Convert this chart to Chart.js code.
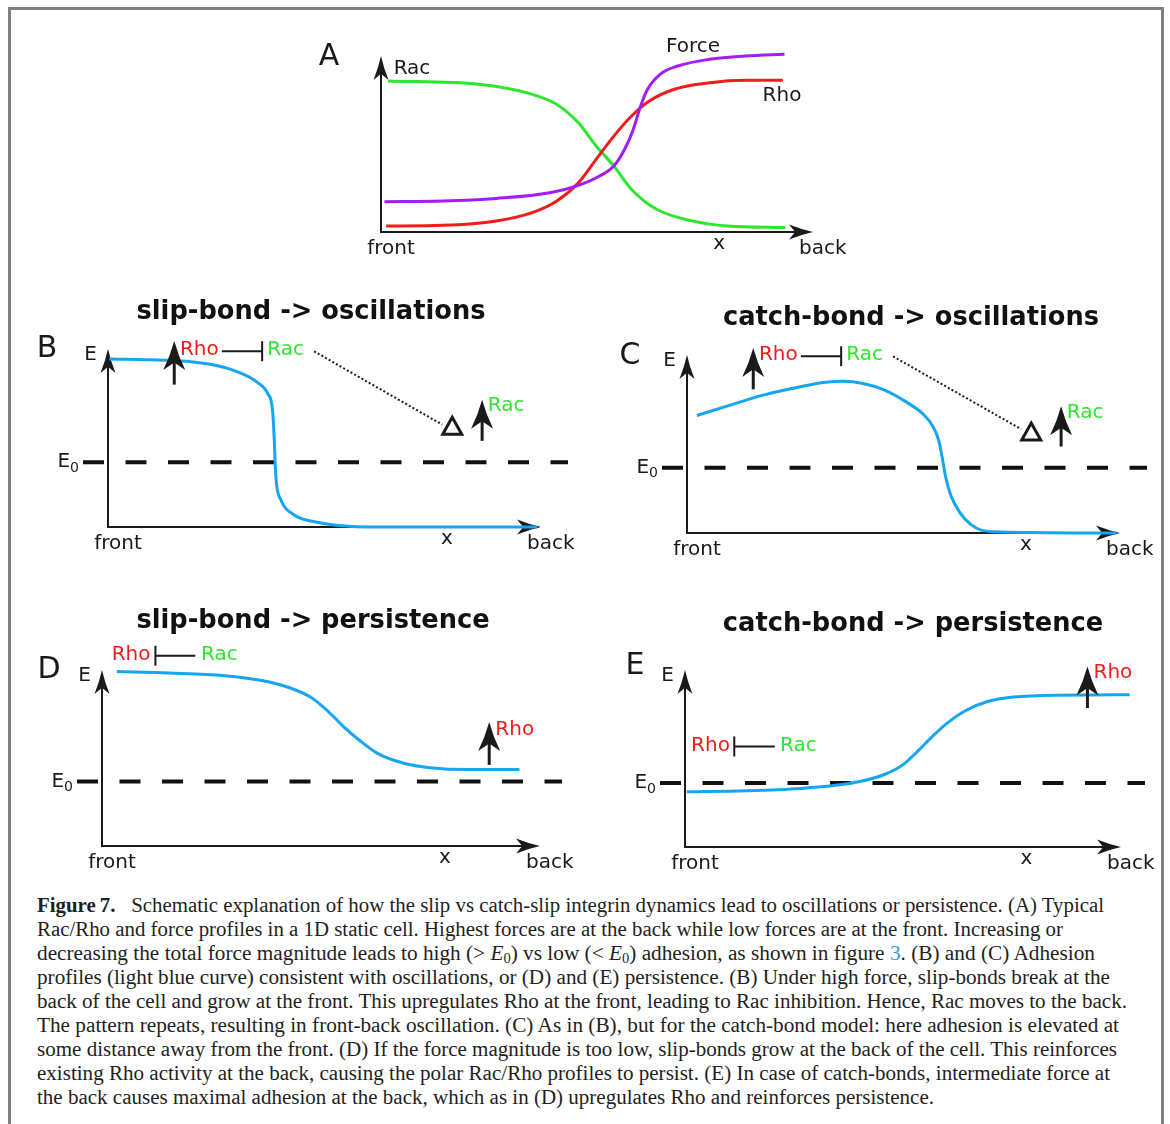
<!DOCTYPE html>
<html>
<head>
<meta charset="utf-8">
<title>Figure 7</title>
<script src="https://cdn.jsdelivr.net/npm/chart.js@4.4.1/dist/chart.umd.min.js"></script>
<style>
  body { margin: 0; background: #fff; }
  #page { position: relative; width: 1170px; height: 1124px; overflow: hidden; }
  #frame { position: absolute; left: 8px; top: 7px; width: 1156px; height: 1140px;
           border: 3px solid #808080; border-bottom: none; box-sizing: border-box; }
  canvas { position: absolute; }
  #caption { position: absolute; left: 37px; top: 893px; font-family: "Liberation Serif", serif;
             font-size: 20px; line-height: 24px; color: #231f20; }
  .ln { white-space: nowrap; height: 24px; }
  .ln span.t { display: inline-block; transform-origin: 0 50%; }
  .ln sub { font-size: 0.68em; vertical-align: -0.2em; line-height: 0; }
  .ref { color: #2a9bd8; }
</style>
</head>
<body>
<div id="page">
  <div id="frame"></div>
  <canvas id="panelA"></canvas>
  <canvas id="panelB"></canvas>
  <canvas id="panelC"></canvas>
  <canvas id="panelD"></canvas>
  <canvas id="panelE"></canvas>
  <div id="caption">
    <div class="ln" data-w="1067"><span class="t"><b>Figure&#8201;7.</b>&nbsp;&nbsp; Schematic explanation of how the slip vs catch-slip integrin dynamics lead to oscillations or persistence. (A) Typical</span></div>
    <div class="ln" data-w="1026"><span class="t">Rac/Rho and force profiles in a 1D static cell. Highest forces are at the back while low forces are at the front. Increasing or</span></div>
    <div class="ln" data-w="1058"><span class="t">decreasing the total force magnitude leads to high (&gt; <i>E</i><sub>0</sub>) vs low (&lt; <i>E</i><sub>0</sub>) adhesion, as shown in figure <span class="ref">3</span>. (B) and (C) Adhesion</span></div>
    <div class="ln" data-w="1073"><span class="t">profiles (light blue curve) consistent with oscillations, or (D) and (E) persistence. (B) Under high force, slip-bonds break at the</span></div>
    <div class="ln" data-w="1090"><span class="t">back of the cell and grow at the front. This upregulates Rho at the front, leading to Rac inhibition. Hence, Rac moves to the back.</span></div>
    <div class="ln" data-w="1082"><span class="t">The pattern repeats, resulting in front-back oscillation. (C) As in (B), but for the catch-bond model: here adhesion is elevated at</span></div>
    <div class="ln" data-w="1080"><span class="t">some distance away from the front. (D) If the force magnitude is too low, slip-bonds grow at the back of the cell. This reinforces</span></div>
    <div class="ln" data-w="1073"><span class="t">existing Rho activity at the back, causing the polar Rac/Rho profiles to persist. (E) In case of catch-bonds, intermediate force at</span></div>
    <div class="ln" data-w="897"><span class="t">the back causes maximal adhesion at the back, which as in (D) upregulates Rho and reinforces persistence.</span></div>
  </div>
</div>
<script>
// profiles as [x, y] pairs, both axes run 0..100 from the origin to the arrow tip
// panel A
var racA = [[1.6,85.8],[22.6,83.9],[35,78.2],[40.7,72.5],[45.7,62.1],[49.8,48.9],[53.9,37.5],[58,24.2],[63.8,12.9],[72,6.3],[80.2,3.4],[93.6,2.5]];
var rhoA = [[1.2,3.4],[14.4,3.8],[26.7,6.3],[35,11],[40.7,17.6],[45.7,28],[49.8,41.3],[53.9,54.5],[58,65.9],[62.1,74.4],[67.9,81.1],[76.1,84.8],[84.4,86.2],[93,86.2]];
var forceA = [[0.8,17.2],[14.4,17.6],[26.7,19.1],[39.1,22.3],[45.7,26.5],[50.6,31.8],[53.9,37.5],[56.4,47],[58.4,58.3],[60.1,71.6],[61.7,81.1],[64.6,89.6],[68.7,94.3],[76.1,98.1],[84.4,100],[93.4,101]];
// panels B-E, adhesion E(x)
var adhB = [[0.3,94.4],[9.6,94],[18.2,93.1],[25,90.7],[30.1,87],[34.4,81.4],[36.9,74.9],[38,65.5],[38.4,48.8],[38.6,35.8],[38.9,24.6],[39.9,15.3],[42.9,6.9],[48,2.8],[54,0.7],[60.8,0],[99.1,0]];
var adhC = [[2.3,66],[9.4,71.4],[17.8,77.6],[26.2,82.2],[32,84.7],[36.2,85.2],[40.4,84.1],[45.5,80.4],[50.5,73.8],[54.7,66.4],[56.8,59.8],[58.1,52.3],[58.9,43],[59.7,31.8],[61,20.6],[63.1,11.2],[65.6,4.7],[68.1,1.5],[72.3,0.6],[99.2,0]];
var adhD = [[3.4,99.1],[15.2,98.3],[28,96.8],[36.5,94],[42.5,90.2],[47.6,84.6],[51.8,76.1],[55.2,67.7],[58.7,60.2],[62.9,52.6],[68.9,47],[74.9,44.5],[83.4,43.4],[95.3,43.4]];
var adhE = [[0.4,31.2],[14,31.8],[26.6,33.1],[35,35],[40.9,37.4],[45.9,41.1],[50.1,46.7],[53.4,54.2],[56.8,62.6],[60.2,70.1],[64.3,77],[69.4,82.2],[75.3,84.7],[85.3,85.8],[102,86]];
// E0 threshold level in each of B..E
var e0Levels = { B: 36.4, C: 36.6, D: 36.7, E: 36.1 };

var RED = '#f01c1c', GREEN = '#2ee62e', BLUE = '#14a6f2', PURPLE = '#a41cf4', INK = '#1a1a1a';
var SANS = '"DejaVu Sans", sans-serif';

function head(ctx, x, y, dir, len, w) {
  // notched arrow head, tip at (x, y)
  ctx.save();
  ctx.translate(x, y);
  if (dir == 'right') ctx.rotate(Math.PI / 2);
  ctx.beginPath();
  ctx.moveTo(0, 0);
  ctx.quadraticCurveTo(w * 0.18, len * 0.5, w / 2, len);
  ctx.lineTo(0, len * 0.74);
  ctx.lineTo(-w / 2, len);
  ctx.quadraticCurveTo(-w * 0.18, len * 0.5, 0, 0);
  ctx.closePath();
  ctx.fillStyle = INK;
  ctx.fill();
  ctx.restore();
}

function txt(ctx, s, x, y, color, align, font) {
  ctx.font = font || ('20px ' + SANS);
  ctx.fillStyle = color || INK;
  ctx.textAlign = align || 'left';
  ctx.textBaseline = 'middle';
  ctx.fillText(s, x, y);
}

function makePanel(id, box, ax, series, o) {
  var cv = document.getElementById(id);
  cv.width = box.w; cv.height = box.h;
  cv.style.left = box.l + 'px'; cv.style.top = box.t + 'px';

  var deco = {
    id: 'deco',
    beforeDatasetsDraw: function (c) {
      var ctx = c.ctx, a = c.chartArea, X = c.scales.x, Y = c.scales.y;
      ctx.save();
      // axes
      ctx.strokeStyle = INK; ctx.lineWidth = 2;
      ctx.beginPath();
      ctx.moveTo(a.left, a.top + 12); ctx.lineTo(a.left, a.bottom);
      ctx.lineTo(a.right - 12, a.bottom);
      ctx.stroke();
      head(ctx, a.left, a.top, 'up', 24, 15);
      head(ctx, a.right, a.bottom, 'right', 24, 15);
      // threshold E0
      if (o.e0 != null) {
        var ye = Y.getPixelForValue(o.e0);
        ctx.setLineDash([21, 21.5]);
        ctx.lineWidth = 4; ctx.strokeStyle = '#111';
        ctx.beginPath(); ctx.moveTo(a.left - 25, ye); ctx.lineTo(a.left + 460, ye); ctx.stroke();
        ctx.setLineDash([]);
        ctx.font = '14px ' + SANS;
        var w0 = ctx.measureText('0').width;
        txt(ctx, '0', a.left - 29, ye + 6, INK, 'right', '14px ' + SANS);
        txt(ctx, 'E', a.left - 29 - w0, ye, INK, 'right');
        txt(ctx, 'E', a.left - 11, a.top + 6, INK, 'right');
      }
      // axis labels
      txt(ctx, 'front', a.left + 10, a.bottom + 17, INK, 'center');
      txt(ctx, 'x', X.getPixelForValue(78.3), a.bottom + 12, INK, 'center');
      txt(ctx, 'back', a.right - 14, a.bottom + 17, INK, 'left');
      // panel letter and title
      txt(ctx, o.letter, o.letterAt[0] - box.l, o.letterAt[1] - box.t, INK, 'center', '30px ' + SANS);
      if (o.title) txt(ctx, o.title, o.titleAt[0] - box.l, o.titleAt[1] - box.t, '#111', 'center', 'bold 25.7px ' + SANS);
      ctx.restore();
    },
    afterDatasetsDraw: function (c) {
      var ctx = c.ctx, X = c.scales.x, Y = c.scales.y;
      ctx.save();
      (o.notes || []).forEach(function (n) {
        if (n.kind == 'text') {
          txt(ctx, n.s, X.getPixelForValue(n.x), Y.getPixelForValue(n.y), n.color, n.align);
        } else if (n.kind == 'up') {
          var px = X.getPixelForValue(n.x), y0 = Y.getPixelForValue(n.y0), y1 = Y.getPixelForValue(n.y1);
          ctx.strokeStyle = INK; ctx.lineWidth = 3;
          ctx.beginPath(); ctx.moveTo(px, y0); ctx.lineTo(px, y1 + 15); ctx.stroke();
          head(ctx, px, y1, 'up', 29, 22);
        } else if (n.kind == 'inhibit') {
          var x0 = X.getPixelForValue(n.x0), x1 = X.getPixelForValue(n.x1), py = Y.getPixelForValue(n.y);
          var xb = n.bar == 'start' ? x0 : x1;
          ctx.strokeStyle = INK; ctx.lineWidth = 2;
          ctx.beginPath(); ctx.moveTo(x0, py); ctx.lineTo(x1, py);
          ctx.moveTo(xb, py - 10); ctx.lineTo(xb, py + 10); ctx.stroke();
        } else if (n.kind == 'dots') {
          ctx.strokeStyle = INK; ctx.lineWidth = 2; ctx.setLineDash([2, 2.2]);
          ctx.beginPath();
          ctx.moveTo(X.getPixelForValue(n.x0), Y.getPixelForValue(n.y0));
          ctx.lineTo(X.getPixelForValue(n.x1), Y.getPixelForValue(n.y1));
          ctx.stroke(); ctx.setLineDash([]);
        } else if (n.kind == 'tri') {
          var tx = X.getPixelForValue(n.x), ty = Y.getPixelForValue(n.y);
          ctx.strokeStyle = INK; ctx.lineWidth = 3; ctx.lineJoin = 'miter';
          ctx.beginPath(); ctx.moveTo(tx - 9.5, ty - 1.5); ctx.lineTo(tx + 9.5, ty - 1.5); ctx.lineTo(tx, ty - 18.5); ctx.closePath(); ctx.stroke();
        }
      });
      (o.labels || []).forEach(function (l) {
        txt(ctx, l.s, l.at[0] - box.l, l.at[1] - box.t, l.color, 'center');
      });
      ctx.restore();
    }
  };

  return new Chart(cv, {
    type: 'line',
    data: {
      datasets: series.map(function (s) {
        return {
          data: s.pts.map(function (p) { return { x: p[0], y: p[1] }; }),
          borderColor: s.color, borderWidth: 3, pointRadius: 0,
          cubicInterpolationMode: 'monotone', fill: false, clip: false
        };
      })
    },
    options: {
      responsive: false, animation: false, devicePixelRatio: 1,
      layout: { padding: { left: ax.ox - box.l, right: box.l + box.w - ax.xTip, top: ax.yTip - box.t, bottom: box.t + box.h - ax.oy } },
      scales: {
        x: { type: 'linear', min: 0, max: 100, display: false },
        y: { type: 'linear', min: 0, max: 100, display: false }
      },
      plugins: { legend: { display: false }, tooltip: { enabled: false } }
    },
    plugins: [deco]
  });
}

// the Rho -| Rac loop shown over B and C
function oscNotes(r) {
  return [
    { kind: 'up', x: 15.3, y0: r.a0, y1: r.a1 },
    { kind: 'text', s: 'Rho', color: RED, x: 16.6, y: r.t },
    { kind: 'inhibit', x0: 26.3, x1: 35.6, y: r.t - 0.7, bar: 'end' },
    { kind: 'text', s: 'Rac', color: GREEN, x: 36.8, y: r.t },
    { kind: 'dots', x0: 47.6, y0: r.t - 0.8, x1: 77.2, y1: r.d },
    { kind: 'tri', x: 79.5, y: r.tri },
    { kind: 'up', x: 86.4, y0: r.b0, y1: r.b1 },
    { kind: 'text', s: 'Rac', color: GREEN, x: 87.7, y: r.b1 - 3.5 }
  ];
}

makePanel('panelA', { l: 300, t: 20, w: 580, h: 250 }, { ox: 381, oy: 232, xTip: 813, yTip: 56 },
  [{ pts: forceA, color: PURPLE }, { pts: rhoA, color: RED }, { pts: racA, color: GREEN }],
  {
    letter: 'A', letterAt: [329, 57],
    labels: [{ s: 'Rac', at: [412, 69] }, { s: 'Force', at: [693, 47] }, { s: 'Rho', at: [782, 96] }]
  });

makePanel('panelB', { l: 25, t: 285, w: 570, h: 290 }, { ox: 108, oy: 527, xTip: 541, yTip: 349 },
  [{ pts: adhB, color: BLUE }],
  {
    letter: 'B', letterAt: [47, 349], title: 'slip-bond -> oscillations', titleAt: [311, 312], e0: e0Levels.B,
    notes: oscNotes({ a0: 80, a1: 104.5, t: 99.5, d: 57.5, tri: 51.2, b0: 48.4, b1: 71.5 })
  });

makePanel('panelC', { l: 600, t: 285, w: 560, h: 290 }, { ox: 687, oy: 533, xTip: 1120, yTip: 355 },
  [{ pts: adhC, color: BLUE }],
  {
    letter: 'C', letterAt: [630, 356], title: 'catch-bond -> oscillations', titleAt: [911, 318], e0: e0Levels.C,
    notes: oscNotes({ a0: 80.7, a1: 104, t: 100, d: 58.3, tri: 51.4, b0: 48.6, b1: 71.2 })
  });

makePanel('panelD', { l: 25, t: 595, w: 570, h: 290 }, { ox: 102, oy: 846, xTip: 540, yTip: 670 },
  [{ pts: adhD, color: BLUE }],
  {
    letter: 'D', letterAt: [49, 670], title: 'slip-bond -> persistence', titleAt: [313, 621], e0: e0Levels.D,
    notes: [
      { kind: 'text', s: 'Rho', color: RED, x: 2.2, y: 108.6 },
      { kind: 'inhibit', x0: 12.2, x1: 21.3, y: 108.1, bar: 'start' },
      { kind: 'text', s: 'Rac', color: GREEN, x: 22.6, y: 108.6 },
      { kind: 'up', x: 88.4, y0: 46.1, y1: 70.4 },
      { kind: 'text', s: 'Rho', color: RED, x: 89.8, y: 66.2 }
    ]
  });

makePanel('panelE', { l: 600, t: 595, w: 560, h: 290 }, { ox: 685, oy: 847, xTip: 1121, yTip: 670 },
  [{ pts: adhE, color: BLUE }],
  {
    letter: 'E', letterAt: [635, 666], title: 'catch-bond -> persistence', titleAt: [913, 624], e0: e0Levels.E,
    notes: [
      { kind: 'text', s: 'Rho', color: RED, x: 1.4, y: 57.3 },
      { kind: 'inhibit', x0: 11.3, x1: 20.6, y: 56.8, bar: 'start' },
      { kind: 'text', s: 'Rac', color: GREEN, x: 21.8, y: 57.3 },
      { kind: 'up', x: 92.3, y0: 78.5, y1: 102 },
      { kind: 'text', s: 'Rho', color: RED, x: 93.7, y: 98.6 }
    ]
  });

// stretch each caption line to its set width
function fitCaption() {
  document.querySelectorAll('#caption .ln').forEach(function (ln) {
    var sp = ln.querySelector('.t');
    sp.style.transform = 'none';
    var w = sp.getBoundingClientRect().width;
    sp.style.transform = 'scaleX(' + (Number(ln.dataset.w) / w) + ')';
  });
}
fitCaption();
if (document.fonts) document.fonts.ready.then(fitCaption);
</script>
</body>
</html>
